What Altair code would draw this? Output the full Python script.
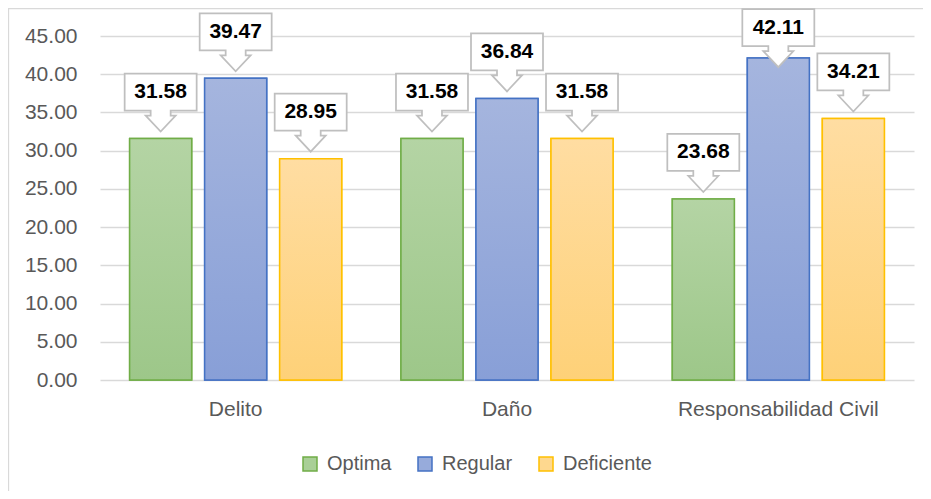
import altair as alt
import pandas as pd

FONT = "Liberation Sans"

categories = ["Delito", "Daño", "Responsabilidad Civil"]
series = ["Optima", "Regular", "Deficiente"]
optima = [31.58, 31.58, 23.68]
regular = [39.47, 36.84, 42.11]
deficiente = [28.95, 31.58, 34.21]
y_ticks = [0, 5, 10, 15, 20, 25, 30, 35, 40, 45]

rows = []
for i, c in enumerate(categories):
    for s, vals in zip(series, [optima, regular, deficiente]):
        rows.append({"categoria": c, "serie": s, "valor": vals[i]})
df = pd.DataFrame(rows)

fill_solid = ["#a9cf97", "#97abdb", "#fed88f"]
strokes = ["#70ad47", "#4472c4", "#ffc000"]
grad_top = ["#b4d4a4", "#a5b5de", "#ffdda2"]
grad_bot = ["#9dc789", "#889fd7", "#fed178"]

x = alt.X("categoria:N", sort=categories,
          scale=alt.Scale(paddingInner=0, paddingOuter=0),
          axis=alt.Axis(title=None, labelAngle=0, domain=False, ticks=False,
                        labelPadding=18, labelFontSize=21, labelColor="#595959",
                        labelFont=FONT, grid=False, labelLimit=400))
xo = alt.XOffset("serie:N", sort=series,
                 scale=alt.Scale(domain=series, paddingInner=0.173, paddingOuter=0.395))
y_axis = alt.Axis(title=None, values=y_ticks, format=".2f", domain=False, ticks=False,
                  labelPadding=23, labelFontSize=21, labelColor="#595959",
                  labelFont=FONT, gridColor="#d9d9d9", gridWidth=1.3)
y = alt.Y("valor:Q", scale=alt.Scale(domain=[0, 45], nice=False), axis=y_axis)
y_anchor = alt.Y("anchor:Q", scale=alt.Scale(domain=[0, 45], nice=False), axis=y_axis)

legend = alt.Legend(title=None, orient="none", legendX=200, legendY=418, direction="horizontal",
                    columns=3, symbolType="square", symbolSize=196, symbolStrokeWidth=1.5,
                    labelFontSize=20, labelColor="#595959", labelFont=FONT,
                    columnPadding=23, labelOffset=7, padding=0)

base = alt.Chart(df).mark_bar(strokeWidth=1.5).encode(
    x=x, xOffset=xo, y=y,
    fill=alt.Fill("serie:N", sort=series, scale=alt.Scale(domain=series, range=fill_solid), legend=legend),
    stroke=alt.Stroke("serie:N", sort=series, scale=alt.Scale(domain=series, range=strokes), legend=legend),
)

overlays = []
for i, s in enumerate(series):
    grad = alt.LinearGradient(gradient="linear", x1=0, x2=0, y1=0, y2=1,
                              stops=[alt.GradientStop(color=grad_top[i], offset=0),
                                     alt.GradientStop(color=grad_bot[i], offset=1)])
    overlays.append(
        alt.Chart(df).transform_filter(alt.datum.serie == s)
        .mark_bar(fill=grad, stroke=strokes[i], strokeWidth=1.5)
        .encode(x=x, xOffset=xo, y=y)
    )

callout_path = ("M -0.9 -0.725 L 0.9 -0.725 L 0.9 0.2 L 0.25 0.2 L 0.25 0.325 L 0.375 0.325 "
                "L 0 0.725 L -0.375 0.325 L -0.25 0.325 L -0.25 0.2 L -0.9 0.2 Z")

# callouts kept inside the chart area (Excel pushes the highest one down)
callouts = alt.Chart(df).transform_calculate(anchor="min(datum.valor, 40)").mark_point(
    shape=callout_path, size=6400, filled=True, fill="white",
    stroke="#bfbfbf", strokeWidth=1.75, opacity=1,
    strokeJoin="miter", yOffset=-36).encode(x=x, xOffset=xo, y=y_anchor)

labels = alt.Chart(df).transform_calculate(anchor="min(datum.valor, 40)").mark_text(
    fontSize=21, fontWeight="bold", color="black", font=FONT,
    baseline="middle", yOffset=-46.5).encode(
    x=x, xOffset=xo, y=y_anchor, text=alt.Text("valor:Q", format=".2f"))

border = alt.Chart(pd.DataFrame({"k": [0]})).mark_rect(fill="transparent", stroke="#d9d9d9",
                                                       strokeWidth=1.3).encode(
    x=alt.value(-91.5), x2=alt.value(900), y=alt.value(-27.5), y2=alt.value(600))

chart = alt.layer(border, base, *overlays, callouts, labels).properties(
    width=814, height=344,
    padding={"left": 92, "top": 28, "right": 9, "bottom": 111},
    autosize=alt.AutoSizeParams(type="none"),
    background="white",
).configure_view(stroke=None)

chart.save("out.html", embed_options={"renderer": "svg", "actions": False})
